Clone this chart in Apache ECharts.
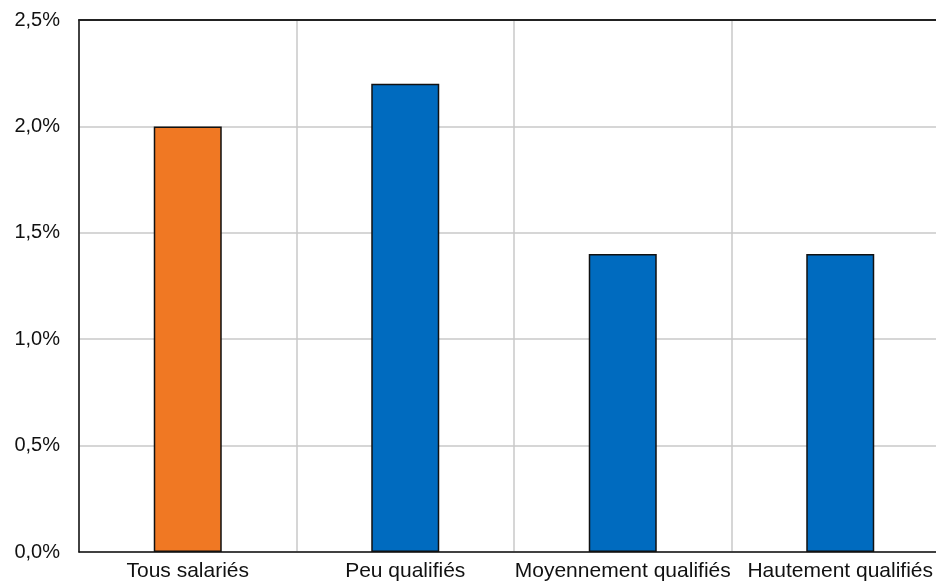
<!DOCTYPE html>
<html>
<head>
<meta charset="utf-8">
<script src="https://cdn.jsdelivr.net/npm/echarts@6/dist/echarts.min.js"></script>
<style>
html,body{margin:0;padding:0;background:#fff;overflow:hidden;width:936px;height:582px;}
#c{width:950px;height:582px;}
</style>
</head>
<body>
<div id="c"></div>
<script>
const categories = ["Tous salariés", "Peu qualifiés", "Moyennement qualifiés", "Hautement qualifiés"];
const values = [2.0, 2.2, 1.4, 1.4];
const barColors = ["#F07823", "#006BBF", "#006BBF", "#006BBF"];
const yTicks = [0, 0.5, 1.0, 1.5, 2.0, 2.5];

const chart = echarts.init(document.getElementById('c'), null, {renderer: 'canvas'});
const font = "'Liberation Sans', Arial, sans-serif";
chart.setOption({
  animation: false,
  grid: {left: 79, top: 20, bottom: 28, right: 1, containLabel: false},
  xAxis: [{
    type: 'category',
    data: categories,
    axisLine: {show: true, lineStyle: {color: '#111', width: 1.5}},
    axisTick: {show: false},
    axisLabel: {color: '#111', fontSize: 21, fontFamily: font, margin: 9, interval: 0},
    splitLine: {show: true, interval: 0, lineStyle: {color: '#c8c8c8', width: 1.5}}
  }, {
    type: 'category',
    data: categories,
    position: 'top',
    axisLine: {show: true, lineStyle: {color: '#222', width: 2}},
    axisTick: {show: false},
    axisLabel: {show: false},
    splitLine: {show: false}
  }],
  yAxis: {
    type: 'value',
    min: 0, max: 2.5, interval: 0.5,
    axisLine: {show: true, lineStyle: {color: '#111', width: 1.5}},
    axisTick: {show: false},
    axisLabel: {
      color: '#111', fontSize: 20, fontFamily: font, margin: 19,
      formatter: v => v.toFixed(1).replace('.', ',') + '%'
    },
    splitLine: {show: true, lineStyle: {color: '#c8c8c8', width: 1.5}}
  },
  series: [{
    type: 'bar',
    xAxisIndex: 0,
    barWidth: 68,
    data: values.map((v, i) => ({value: v, itemStyle: {color: barColors[i]}})),
    itemStyle: {borderColor: '#111', borderWidth: 1.5}
  }]
});
</script>
</body>
</html>
